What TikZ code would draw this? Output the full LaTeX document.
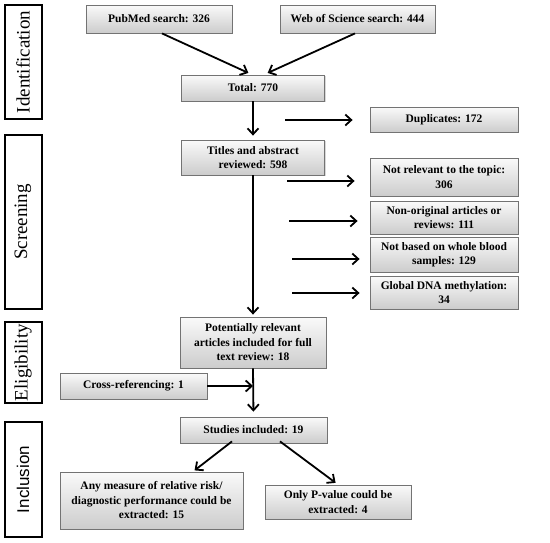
\documentclass[tikz,border=0pt]{standalone}
\usepackage{fontspec}
\setmainfont{Liberation Serif}
\newfontfamily\incfont{Liberation Sans}
\usepackage{tikz}
\usetikzlibrary{arrows.meta, calc, shadows, positioning}
\newcommand{\boxgray}{black!55}

\begin{document}
\begin{tikzpicture}[x=1pt,y=-1pt,
	fbox/.style={
	draw=\boxgray,line width=0.8pt,rectangle,top color=gray!4,bottom color=gray!40,
	align=center,font=\bfseries\fontsize{11.5}{14.5}\selectfont,inner sep=0pt,
	drop shadow={shadow xshift=1pt,shadow yshift=-1pt,fill=gray!60,opacity=0.5}
},
	phase/.style={
	draw,line width=2pt,rectangle,minimum width=37pt,inner sep=0pt,
	font=\fontsize{19}{19}\selectfont
},
	arr/.style={line width=1.8pt,-{Straight Barb[length=6pt,width=11pt,line width=1.8pt]}}
]
	\useasboundingbox (0,0) rectangle (550,542);

	% phases on the left
	\node[phase,minimum height=114pt] at (23,62) (sId) {\rotatebox{90}{Identification}};
	\node[phase,minimum height=174pt] at (23,222) (sScr) {\rotatebox{90}{Screening}};
	\node[phase,minimum height=81pt] at (23,362.5) (sEl) {\rotatebox{90}{Eligibility}};
	\node[phase,minimum height=115pt,font=\incfont\fontsize{17}{17}\selectfont] at (23,479.5) (sInc) {\rotatebox{90}{Inclusion}};

	% main column
	\node[fbox,minimum width=146pt,minimum height=28pt] at (159,19) (bPub) {PubMed search: 326};
	\node[fbox,minimum width=155pt,minimum height=28pt] at (357.5,19) (bWos) {Web of Science search: 444};
	\node[fbox,minimum width=143pt,minimum height=26pt] at (253,88) (bTot) {Total: 770};
	\node[fbox,minimum width=143pt,minimum height=35pt] at (253,157.5) (bTit) {Titles and abstract\\reviewed: 598};
	\node[fbox,minimum width=146pt,minimum height=51pt] at (253,342.5) (bPot) {Potentially relevant\\articles included for full\\text review: 18};
	\node[fbox,minimum width=147pt,minimum height=26pt] at (133.5,386) (bXref) {Cross-referencing: 1};
	\node[fbox,minimum width=147pt,minimum height=26pt] at (253.5,430) (bStud) {Studies included: 19};
	\node[fbox,minimum width=183pt,minimum height=57pt] at (151.5,500.5) (bAny) {Any measure of relative risk/\\diagnostic performance could be\\extracted: 15};
	\node[fbox,minimum width=146pt,minimum height=34pt] at (338,502) (bPval) {Only P-value could be\\extracted: 4};

	% exclusions
	\node[fbox,minimum width=148pt,minimum height=25pt] at (444,119.5) (xDup) {Duplicates: 172};
	\node[fbox,minimum width=148pt,minimum height=38pt] at (444,177) (xRel) {Not relevant to the topic:\\306};
	\node[fbox,minimum width=148pt,minimum height=33pt] at (444,217.5) (xOrig) {Non-original articles or\\reviews: 111};
	\node[fbox,minimum width=148pt,minimum height=35pt] at (444,254.5) (xBlood) {Not based on whole blood\\samples: 129};
	\node[fbox,minimum width=148pt,minimum height=33pt] at (444,292.5) (xDna) {Global DNA methylation:\\34};

	\coordinate (cDup) at (285,120);
	\coordinate (cRel) at (287,181);
	\coordinate (cOrig) at (289,221);
	\coordinate (cBlood) at (292,259);
	\coordinate (cDna) at (292,293);

	\draw[arr,shorten >=4pt] ([xshift=3pt]bPub.south) -- ([xshift=-1pt]bTot.north);
	\draw[arr,shorten >=4pt] ([xshift=-2.5pt]bWos.south) -- ([xshift=11pt]bTot.north);
	\draw[arr,shorten >=4pt] (bTot.south) -- (bTit.north);
	\draw[arr,shorten >=2pt] (bTit.south) -- (bPot.north);
	\draw[arr,shorten >=5pt] (bPot.south) -- (bStud.north);
	\draw[arr] (bXref.east) -- (bXref.east -| bPot.south);
	\draw[arr,shorten >=2pt] ([xshift=-21.5pt,yshift=2pt]bStud.south) -- ([xshift=41.5pt]bAny.north);
	\draw[arr,shorten >=3pt] ([xshift=26.5pt,yshift=2pt]bStud.south) -- (bPval.north);

	\draw[arr,shorten >=17pt] (cDup) -- (cDup -| xDup.west);
	\draw[arr,shorten >=15pt] (cRel) -- (cRel -| xRel.west);
	\draw[arr,shorten >=12pt] (cOrig) -- (cOrig -| xOrig.west);
	\draw[arr,shorten >=10pt] (cBlood) -- (cBlood -| xBlood.west);
	\draw[arr,shorten >=10pt] (cDna) -- (cDna -| xDna.west);
\end{tikzpicture}
\end{document}
